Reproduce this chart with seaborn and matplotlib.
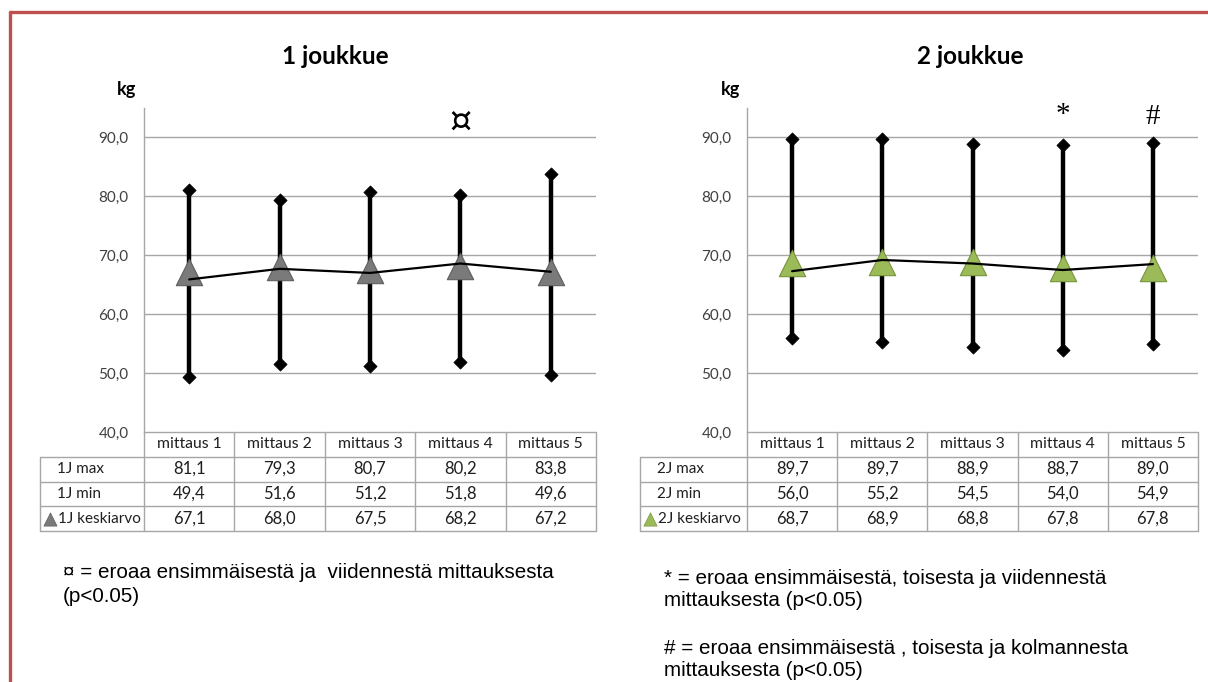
import matplotlib
matplotlib.use("Agg")
import matplotlib.pyplot as plt
from matplotlib.lines import Line2D
import seaborn as sns
import pandas as pd

# --- data -------------------------------------------------------------
measurements = ["mittaus 1", "mittaus 2", "mittaus 3", "mittaus 4", "mittaus 5"]

max_1 = [81.1, 79.3, 80.7, 80.2, 83.8]
min_1 = [49.4, 51.6, 51.2, 51.8, 49.6]
mean_1 = [67.1, 68.0, 67.5, 68.2, 67.2]
trend_1 = [65.9, 67.7, 67.0, 68.6, 67.2]

max_2 = [89.7, 89.7, 88.9, 88.7, 89.0]
min_2 = [56.0, 55.2, 54.5, 54.0, 54.9]
mean_2 = [68.7, 68.9, 68.8, 67.8, 67.8]
trend_2 = [67.3, 69.2, 68.6, 67.5, 68.5]

y_ticks = [40, 50, 60, 70, 80, 90]

# --- styling ----------------------------------------------------------
sns.set_style("white")
plt.rcParams["font.family"] = ["Lato", "DejaVu Sans"]

W, H = 1208, 682
GRID = "#A6A6A6"
TEXT = "#1F1F1F"
fig = plt.figure(figsize=(W / 100, H / 100), dpi=100)


def box(left, top, right, bottom):
    return [left / W, 1 - bottom / H, (right - left) / W, (bottom - top) / H]


def fmt(v):
    return f"{v:.1f}".replace(".", ",")


def panel(ax_left, ax_right, tab_left, title, title_x, prefix,
          vmax, vmin, vmean, vtrend, tri_color, tri_edge, marks):
    ax = fig.add_axes(box(ax_left, 108, ax_right, 432))
    xs = list(range(len(measurements)))
    df = pd.DataFrame({"x": xs, "max": vmax, "min": vmin,
                       "mean": vmean, "trend": vtrend})

    # high-low bars with diamond ends
    ax.vlines(df["x"], df["min"], df["max"], color="black", lw=3.2, zorder=2)
    for col in ("max", "min"):
        sns.scatterplot(data=df, x="x", y=col, marker="D", s=45,
                        color="black", edgecolor="black", ax=ax, zorder=3)
    # mean markers
    sns.scatterplot(data=df, x="x", y="mean", marker="^", s=360,
                    color=tri_color, edgecolor=tri_edge, linewidth=0.8,
                    ax=ax, zorder=4)
    # connecting line
    sns.lineplot(data=df, x="x", y="trend", color="black", lw=1.6,
                 ax=ax, zorder=5)

    ax.set_xlim(-0.5, len(measurements) - 0.5)
    ax.set_ylim(40, 95)
    ax.set_yticks(y_ticks)
    ax.set_yticklabels([fmt(v) for v in y_ticks], color="#404040", fontsize=11)
    ax.set_xticks([])
    ax.tick_params(axis="y", length=0, pad=11)
    ax.set_xlabel("")
    ax.set_ylabel("")
    for s in ("top", "right", "bottom"):
        ax.spines[s].set_visible(False)
    ax.spines["left"].set_color(GRID)
    ax.spines["left"].set_linewidth(1)
    for v in y_ticks[1:]:
        ax.axhline(v, color=GRID, lw=1, zorder=1)

    for idx, sym, y, size, fam in marks:
        ax.text(idx, y, sym, ha="center", va="center", fontsize=size,
                color="black", family=fam)

    # title and unit
    fig.text(title_x / W, 1 - 57 / H, title, ha="center", va="center",
             fontsize=17.5, fontweight="bold", color="black")
    fig.text((ax_left - 17) / W, 1 - 90 / H, "kg", ha="center", va="center",
             fontsize=13, fontweight="bold", color="black")

    # data table below the plot
    px = (ax_right - ax_left) / len(measurements)
    x_lab = -0.5 - (ax_left - tab_left) / px
    tab = fig.add_axes(box(tab_left, 432, ax_right, 531))
    tab.set_xlim(x_lab, len(measurements) - 0.5)
    tab.set_ylim(4, 0)
    tab.axis("off")
    n = len(measurements)
    tab.plot([-0.5, n - 0.5], [0, 0], color=GRID, lw=1, clip_on=False)
    for r in (1, 2, 3, 4):
        tab.plot([x_lab, n - 0.5], [r, r], color=GRID, lw=1, clip_on=False)
    for k in range(n + 1):
        tab.plot([k - 0.5, k - 0.5], [0, 4], color=GRID, lw=1, clip_on=False)
    tab.plot([x_lab, x_lab], [1, 4], color=GRID, lw=1, clip_on=False)

    for k, name in enumerate(measurements):
        tab.text(k, 0.5, name, ha="center", va="center", fontsize=11.3, color=TEXT)
    rows = [(f"{prefix} max", vmax), (f"{prefix} min", vmin),
            (f"{prefix} keskiarvo", vmean)]
    for r, (label, vals) in enumerate(rows, start=1):
        for k, v in enumerate(vals):
            tab.text(k, r + 0.5, fmt(v), ha="center", va="center",
                     fontsize=12, color=TEXT)
        if r < 3:
            tab.text(x_lab + 17 / px, r + 0.5, label, ha="left", va="center",
                     fontsize=11, color=TEXT)
        else:
            tab.scatter([x_lab + 10 / px], [r + 0.5], marker="^", s=90,
                        color=tri_color, edgecolor=tri_edge, lw=0.5,
                        clip_on=False)
            tab.text(x_lab + 18 / px, r + 0.5, label, ha="left", va="center",
                     fontsize=11, color=TEXT)
    return ax


panel(144, 596, 40, "1 joukkue", 335, "1J", max_1, min_1, mean_1, trend_1,
      "#7A7A7A", "#5F5F5F", [(3, "¤", 92.6, 25, ["DejaVu Sans"])])
panel(747, 1198, 640, "2 joukkue", 970, "2J", max_2, min_2, mean_2, trend_2,
      "#9BBB59", "#77933C", [(3, "*", 93.8, 21, ["Liberation Serif"]),
                             (4, "#", 93.5, 21, ["Liberation Serif"])])

# footnotes
note = dict(ha="left", va="center", fontsize=14.9, color="black",
            family=["Liberation Sans", "DejaVu Sans"])
fig.text(63 / W, 1 - 572 / H, "¤ = eroaa ensimmäisestä ja  viidennestä mittauksesta", **note)
fig.text(63 / W, 1 - 597 / H, "(p<0.05)", **note)
fig.text(664 / W, 1 - 578 / H, "* = eroaa ensimmäisestä, toisesta ja viidennestä", **note)
fig.text(664 / W, 1 - 601 / H, "mittauksesta (p<0.05)", **note)
fig.text(664 / W, 1 - 648 / H, "# = eroaa ensimmäisestä , toisesta ja kolmannesta", **note)
fig.text(664 / W, 1 - 671 / H, "mittauksesta (p<0.05)", **note)

# frame border
red = "#C0504D"
fig.add_artist(Line2D([10 / W, 1], [1 - 12 / H, 1 - 12 / H], color=red, lw=2.4))
fig.add_artist(Line2D([10 / W, 10 / W], [0, 1 - 12 / H], color=red, lw=2.4))

fig.savefig("out.png", dpi=100, facecolor="white")
